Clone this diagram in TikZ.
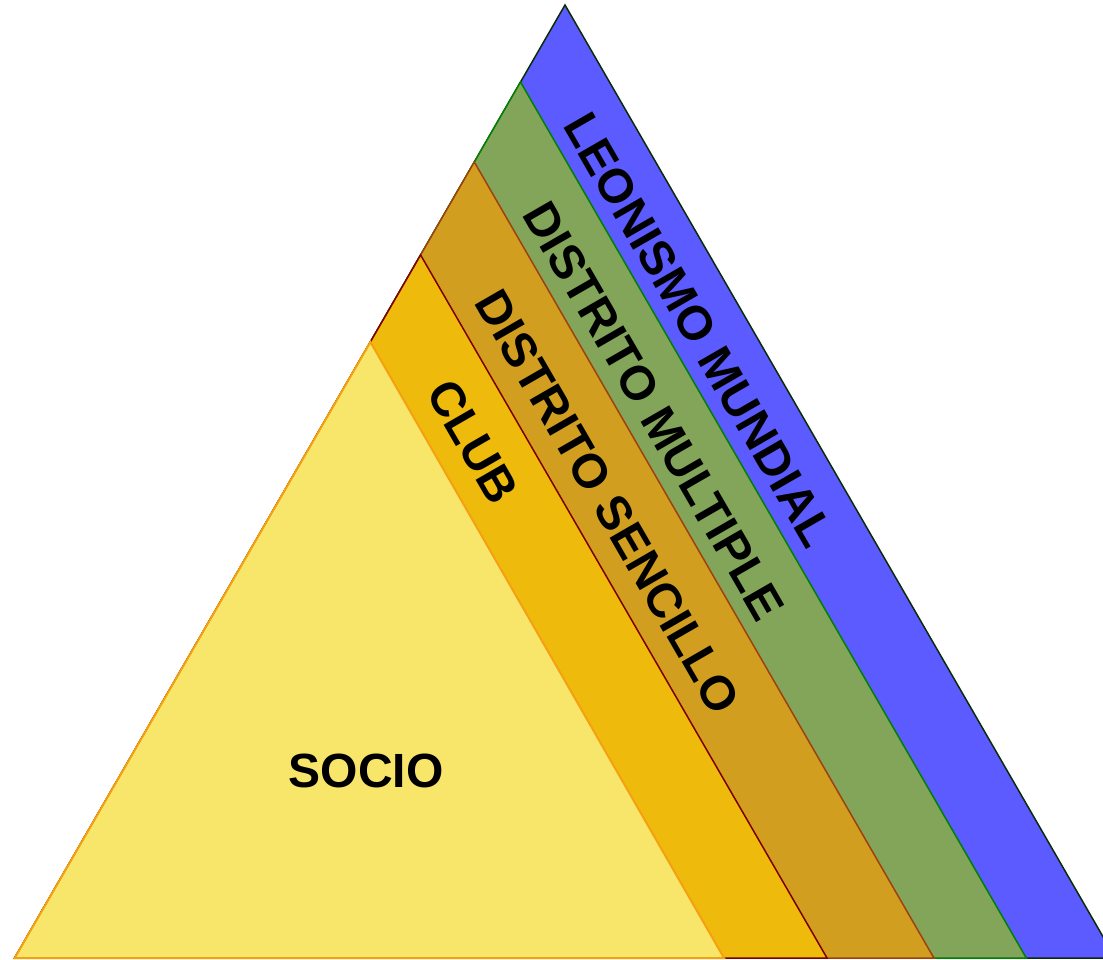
\documentclass[tikz,border=0pt]{standalone}
\usepackage{fontspec}
\setmainfont{Liberation Sans}
\begin{document}
\begin{tikzpicture}[x=1pt,y=-1pt]
\definecolor{cblue}{HTML}{5B5BFF}
\definecolor{cgreen}{HTML}{82A55A}
\definecolor{cdgold}{HTML}{D29E20}
\definecolor{cgold}{HTML}{EEBA0C}
\definecolor{cyellow}{HTML}{F8E66A}
\definecolor{lblue}{HTML}{0A2A0A}
\definecolor{lgreen}{HTML}{008000}
\definecolor{ldgold}{HTML}{A0410D}
\definecolor{lgold}{HTML}{7B0000}
\definecolor{lyellow}{HTML}{F5A010}
\tikzset{
  layer/.style={line width=1.5pt, line join=miter},
  lbl/.style={font=\fontsize{48}{52}\selectfont\bfseries, text=black, inner sep=0pt},
}
\useasboundingbox (0,0) rectangle (1103,960);
\clip (0,0) rectangle (1103,960);
% layers (apex on left edge, right side parallel)
\filldraw[layer, fill=cblue, draw=lblue] (565,5) -- (1115.3,958) -- (14.7,958) -- cycle;
\filldraw[layer, fill=cgreen, draw=lgreen] (520.5,82) -- (1026.3,958) -- (14.7,958) -- cycle;
\filldraw[layer, fill=cdgold, draw=ldgold] (474.3,162) -- (933.9,958) -- (14.7,958) -- cycle;
\filldraw[layer, fill=cgold, draw=lgold] (420.6,255) -- (827,958) -- (14.7,958) -- cycle;
\filldraw[layer, line width=2pt, fill=cyellow, draw=lyellow] (370.4,342) -- (724,958) -- (14.7,958) -- cycle;
% labels
\node[lbl, rotate=-60] (lm) at (699,330) {LEONISMO MUNDIAL};
\node[lbl, rotate=-60] (dm) at (654,411) {DISTRITO MULTIPLE};
\node[lbl, rotate=-60] (ds) at (608,502) {DISTRITO SENCILLO};
\node[lbl, rotate=-60] (club) at (473,442) {CLUB};
\node[lbl] (socio) at (366,771) {SOCIO};
\end{tikzpicture}
\end{document}
